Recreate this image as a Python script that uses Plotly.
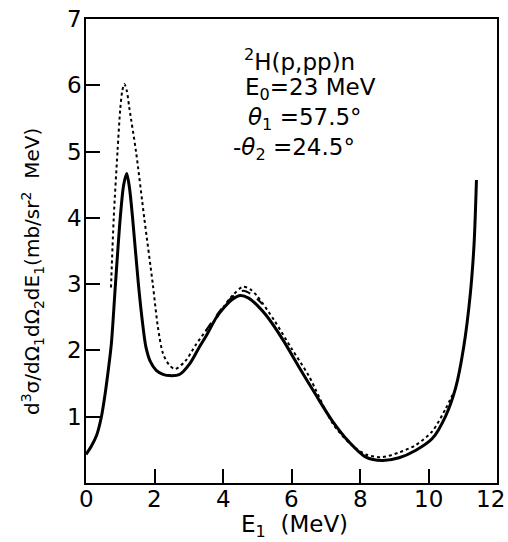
import plotly.graph_objects as go

# Theory curve (solid)
e_solid = [0.0, 0.15, 0.31, 0.45, 0.56, 0.65, 0.74, 0.86, 1.0, 1.1, 1.19, 1.27, 1.36,
           1.53, 1.65, 1.75, 1.88, 2.05, 2.25, 2.45, 2.74, 3.03, 3.32, 3.52, 3.81,
           4.05, 4.3, 4.5, 4.75, 5.0, 5.26, 5.75, 6.23, 6.71, 7.2, 7.68, 8.17, 8.65,
           9.14, 9.62, 10.11, 10.5, 10.79, 11.03, 11.22, 11.33, 11.4]
s_solid = [0.43, 0.55, 0.72, 1.0, 1.35, 1.7, 2.1, 3.0, 4.0, 4.5, 4.67, 4.45, 4.0,
           3.0, 2.42, 2.05, 1.83, 1.7, 1.64, 1.62, 1.64, 1.8, 2.06, 2.23, 2.5,
           2.66, 2.78, 2.83, 2.79, 2.68, 2.53, 2.16, 1.74, 1.33, 0.93, 0.62, 0.39, 0.34,
           0.38, 0.49, 0.67, 1.01, 1.43, 2.06, 2.85, 3.6, 4.57]

# Dotted curve
e_dot = [0.73, 0.81, 0.92, 1.0, 1.06, 1.12, 1.19, 1.27, 1.46, 1.7, 1.95, 2.1, 2.25,
         2.43, 2.6, 2.9, 3.2, 3.52, 3.8, 4.05, 4.3, 4.58, 4.8, 5.0, 5.5, 6.0, 6.5,
         7.2, 7.7, 8.17, 8.65, 9.14, 9.62, 10.11, 10.5, 10.7]
s_dot = [2.95, 4.0, 5.0, 5.64, 5.92, 6.02, 5.92, 5.64, 5.0, 4.0, 3.0, 2.35, 1.95,
         1.78, 1.72, 1.84, 2.08, 2.31, 2.48, 2.68, 2.84, 2.96, 2.92, 2.82, 2.45, 2.03,
         1.62, 0.9, 0.6, 0.43, 0.39, 0.46, 0.57, 0.78, 1.12, 1.33]

# Dashed segment near the second maximum
e_dash = [3.5, 3.8, 4.1, 4.4, 4.6, 4.85, 5.15]
s_dash = [2.3, 2.52, 2.72, 2.86, 2.9, 2.84, 2.7]

x_ticks = [0, 2, 4, 6, 8, 10, 12]
y_ticks = [1, 2, 3, 4, 5, 6, 7]

FONT = "DejaVu Sans"
W, H = 508, 542
L, R, T, B = 86, 497, 19, 483


def px(x):
    return (x - L) / (R - L)


def py(y):
    return (B - y) / (B - T)


fig = go.Figure()
fig.add_trace(go.Scatter(x=e_dot, y=s_dot, mode="lines",
                         line=dict(color="black", width=2, dash="dot", shape="spline", smoothing=0.8)))
fig.add_trace(go.Scatter(x=e_dash, y=s_dash, mode="lines",
                         line=dict(color="black", width=2, dash="dash", shape="spline", smoothing=0.8)))
fig.add_trace(go.Scatter(x=e_solid, y=s_solid, mode="lines",
                         line=dict(color="black", width=3, shape="spline", smoothing=0.8)))

# frame with inward ticks; tick labels are placed as annotations below
axis_common = dict(showgrid=False, zeroline=False, showline=True, linecolor="black",
                   linewidth=1.5, mirror=True, ticks="inside", ticklen=14,
                   tickwidth=1.5, tickcolor="black", showticklabels=False,
                   tickmode="array")

fig.update_layout(
    template="none",
    width=W, height=H,
    margin=dict(l=L, r=W - R, t=T, b=H - B),
    paper_bgcolor="white", plot_bgcolor="white",
    showlegend=False,
    xaxis=dict(range=[0, 12], tickvals=x_ticks, **axis_common),
    yaxis=dict(range=[0, 7], tickvals=y_ticks, **axis_common),
)

tick_font = dict(family=FONT, size=23, color="black")
for v in x_ticks:
    last = v == x_ticks[-1]
    fig.add_annotation(x=px(507) if last else v, y=py(499),
                       xref="paper" if last else "x", yref="paper", text=str(v),
                       showarrow=False, xanchor="right" if last else "center",
                       yanchor="middle", font=tick_font)
for v in y_ticks:
    fig.add_annotation(x=px(84), y=v, xref="paper", yref="y", text=str(v),
                       showarrow=False, xanchor="right", yanchor="middle", font=tick_font)

ann_font = dict(family=FONT, size=23, color="black")
lines = [
    (242, 60, "<sup>2</sup>H(p,pp)n"),
    (243, 89, "E<sub>0</sub>=23 MeV"),
    (246, 119, "<i>θ</i><sub>1</sub> =57.5°"),
    (231, 149, "-<i>θ</i><sub>2</sub> =24.5°"),
]
for x0, y0, txt in lines:
    fig.add_annotation(x=px(x0), y=py(y0), xref="paper", yref="paper", text=txt,
                       showarrow=False, xanchor="left", yanchor="middle", font=ann_font)

fig.add_annotation(x=px(294), y=py(526), xref="paper", yref="paper",
                   text="E<sub>1</sub>  (MeV)", showarrow=False,
                   xanchor="center", yanchor="middle", font=dict(family=FONT, size=23, color="black"))
fig.add_annotation(x=px(32), y=py(272), xref="paper", yref="paper",
                   text="d<sup>3</sup>σ/dΩ<sub>1</sub>dΩ<sub>2</sub>dE<sub>1</sub>(mb/sr<sup>2</sup>  MeV)",
                   textangle=-90, showarrow=False, xanchor="center", yanchor="middle",
                   font=dict(family=FONT, size=20, color="black"))

fig.write_html("out.html")
